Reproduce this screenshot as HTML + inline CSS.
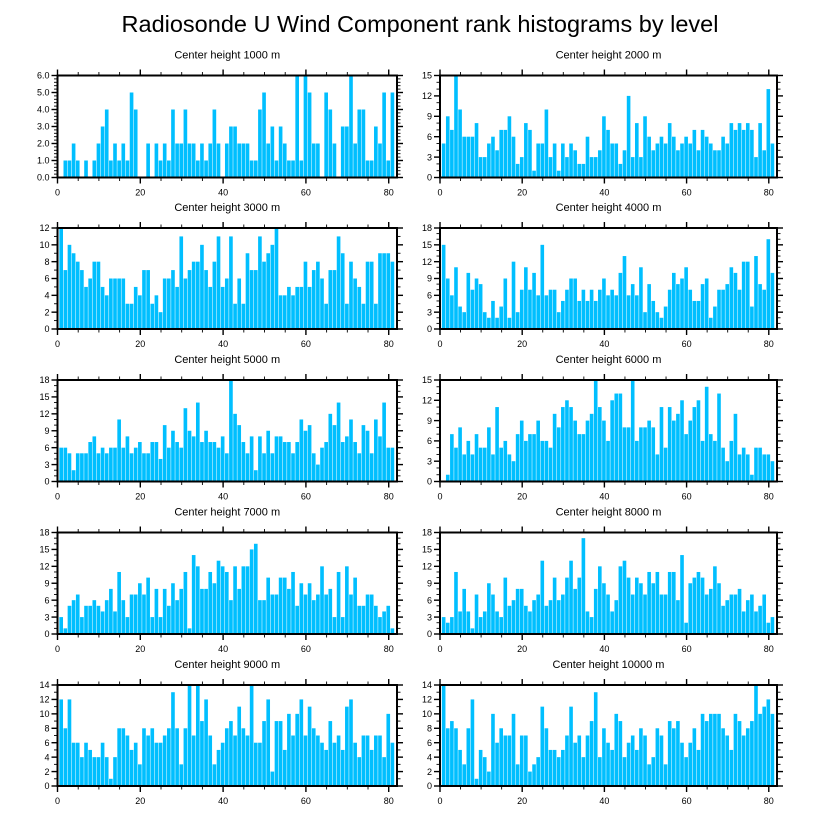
<!DOCTYPE html>
<html><head><meta charset="utf-8"><style>
html,body{margin:0;padding:0;background:#fff;}
svg{display:block;font-family:"Liberation Sans",Arial,sans-serif;}
</style></head><body>
<svg id="fig" width="818" height="824" viewBox="0 0 818 824">
<text x="420" y="32" font-size="23.5" text-anchor="middle" fill="#000">Radiosonde U Wind Component rank histograms by level</text>
</svg>
<script>
const titles=["Center height 1000 m","Center height 2000 m","Center height 3000 m","Center height 4000 m","Center height 5000 m","Center height 6000 m","Center height 7000 m","Center height 8000 m","Center height 9000 m","Center height 10000 m"];
const xTicks=[0,20,40,60,80];
const yMaxes=[6,15,12,18,18,15,18,18,14,14];
const ySteps=[1,3,2,3,3,3,3,3,2,2];
const v1000=[0,1,1,2,1,0,1,0,1,2,3,4,1,2,1,2,1,5,4,0,0,2,0,2,1,2,1,4,2,2,4,2,2,1,2,1,2,4,2,0,2,3,3,2,2,2,1,1,4,5,2,3,1,3,2,1,1,6,1,6,5,2,2,0,5,4,2,0,3,3,6,2,4,4,1,1,3,2,5,1,5];
const v2000=[5,9,7,15,10,6,6,6,8,3,3,5,6,4,7,7,9,6,2,3,8,7,1,5,5,10,3,5,1,5,3,5,4,2,2,6,3,3,4,9,7,5,5,2,4,12,3,8,3,9,6,4,5,6,5,8,6,4,5,6,5,7,4,7,6,5,4,4,6,5,8,7,8,7,8,7,3,8,4,13,5];
const v3000=[12,7,10,9,8,7,5,6,8,8,5,4,6,6,6,6,3,3,5,4,7,7,3,4,2,6,6,7,5,11,6,7,8,8,10,7,5,8,11,5,6,11,3,6,3,9,7,7,11,8,9,10,12,4,4,5,4,5,5,8,5,7,8,6,3,7,7,11,9,3,8,6,5,3,8,8,3,9,9,9,8];
const v4000=[15,9,6,11,4,3,10,7,9,8,3,2,5,2,4,9,2,12,3,7,11,7,10,6,15,6,7,7,3,5,7,9,9,5,7,5,7,5,7,9,6,7,6,10,13,6,8,6,11,3,8,5,3,2,4,7,10,8,9,11,7,5,5,8,9,2,4,7,7,8,11,10,7,12,12,4,13,8,7,16,10];
const v5000=[6,6,5,2,5,5,5,7,8,5,6,5,6,6,11,6,8,5,6,7,5,5,7,7,4,10,6,9,7,6,13,9,8,14,7,9,7,7,6,8,5,18,12,10,7,5,8,2,8,5,9,5,8,8,7,7,5,7,11,9,10,5,3,6,7,12,10,14,7,8,11,7,5,10,9,5,11,8,14,6,6];
const v6000=[0,1,7,5,8,4,6,4,7,5,5,8,4,11,5,6,4,3,7,9,6,7,7,9,6,6,5,10,8,11,12,11,9,7,7,9,10,15,11,9,6,12,13,13,8,8,15,6,8,8,9,8,4,11,5,11,9,10,12,7,9,11,12,6,14,7,6,13,5,3,6,10,4,5,4,1,5,5,4,4,3];
const v7000=[3,1,5,6,7,3,5,5,6,5,4,6,8,4,11,6,3,7,7,9,7,10,3,8,3,8,5,9,6,8,11,1,14,12,8,8,11,9,13,12,11,6,12,8,12,12,15,16,6,6,10,7,7,10,10,8,11,5,9,7,9,6,7,12,7,8,3,11,3,12,7,10,5,5,7,7,5,3,4,5,1];
const v8000=[3,2,3,11,4,8,4,1,7,3,4,9,7,4,3,10,5,6,8,8,5,4,6,7,13,5,6,10,6,7,10,13,8,10,17,4,3,8,12,9,7,4,6,12,13,10,7,10,9,7,11,9,11,7,7,11,11,6,14,2,9,10,11,10,7,8,12,9,5,6,7,7,8,4,6,7,4,5,7,2,3];
const v9000=[12,8,12,6,6,4,6,5,4,4,6,4,1,4,8,8,7,5,6,3,8,7,8,6,6,7,8,13,8,3,8,14,7,14,9,12,7,3,5,6,8,9,7,11,8,7,14,6,6,9,12,2,9,9,5,10,7,10,12,7,11,8,7,6,5,9,6,7,5,11,12,6,4,7,7,5,7,7,4,10,6];
const v10000=[14,8,9,8,5,3,8,12,1,5,4,2,10,6,8,7,7,10,3,7,7,2,3,4,11,8,5,5,4,5,7,11,6,7,4,7,9,13,4,8,6,5,10,9,4,6,7,5,8,7,3,4,8,7,3,9,8,9,6,4,6,8,5,10,9,10,10,10,8,7,5,10,9,7,8,9,14,10,11,12,10];
const series=[v1000,v2000,v3000,v4000,v5000,v6000,v7000,v8000,v9000,v10000];

const NS="http://www.w3.org/2000/svg";
const svg=document.getElementById('fig');
const colX=[[57.5,397],[440,777]];
const rowY=[[75.5,177.5],[228,329],[380,481.5],[532.5,634],[685,786]];
const XMAX=82;
function mk(tag,attrs,parent){const e=document.createElementNS(NS,tag);for(const k in attrs)e.setAttribute(k,attrs[k]);(parent||svg).appendChild(e);return e;}

series.forEach((vals,p)=>{
  const c=p%2, r=Math.floor(p/2);
  const L=colX[c][0],R=colX[c][1],T=rowY[r][0],B=rowY[r][1];
  const ymax=yMaxes[p], step=ySteps[p];
  const xs=v=>L+(R-L)*v/XMAX;
  const ys=v=>B-(B-T)*v/ymax;
  const g=mk('g',{});
  
  
  const t=mk('text',{x:(L+R)/2,y:T-17,'font-size':11,'text-anchor':'middle',fill:'#000'},g);
  
  
  t.textContent=titles[p];
  vals.forEach((v,i)=>{
    const idx=i+1;
    if(v<=0)return;
    const x0=xs(idx-0.55), x1=xs(idx+0.45);
    const b=mk('rect',{x:x0,y:ys(v),width:Math.max(0.5,x1-x0-0.5),height:B-ys(v),fill:'#00bfff'},g);
    
    
  });
  for(let m=0;m<=XMAX;m+=5){
    const major=(m%20===0);const len=major?6:3.5;
    mk('line',{x1:xs(m),x2:xs(m),y1:B,y2:B+len,stroke:'#000','stroke-width':major?1.4:0.9},g);
    mk('line',{x1:xs(m),x2:xs(m),y1:T,y2:T-len,stroke:'#000','stroke-width':major?1.4:0.9},g);
  }
  xTicks.forEach(m=>{
    const lb=mk('text',{x:xs(m),y:B+18,'font-size':9,'text-anchor':'middle',fill:'#000'},g);
    
    
    lb.textContent=m;
  });
  const nMinor=(step===1)?5:(step===3?3:2);
  const ms=step/nMinor;
  for(let k=0;k<=Math.round(ymax/ms);k++){
    const v=k*ms;const major=(k%nMinor===0);const len=major?6:3.5;
    mk('line',{x1:L,x2:L-len,y1:ys(v),y2:ys(v),stroke:'#000','stroke-width':major?1.4:0.9},g);
    mk('line',{x1:R,x2:R+len,y1:ys(v),y2:ys(v),stroke:'#000','stroke-width':major?1.4:0.9},g);
  }
  for(let v=0;v<=ymax+1e-9;v+=step){
    const lb=mk('text',{x:L-8,y:ys(v)+3.2,'font-size':9,'text-anchor':'end',fill:'#000'},g);
    
    
    lb.textContent=(step===1)?v.toFixed(1):v;
  }
  const fr=mk('rect',{x:L,y:T,width:R-L,height:B-T,fill:'none',stroke:'#000','stroke-width':2},g);
  
  
});
</script>
</body></html>
